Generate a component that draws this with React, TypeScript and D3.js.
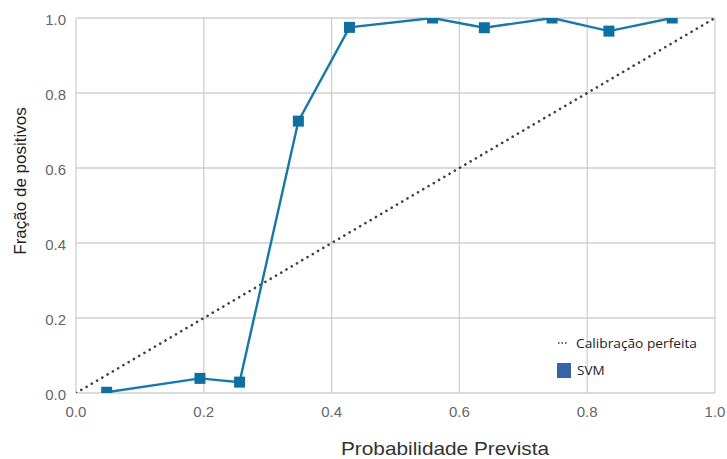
import React from "react";
import * as d3 from "d3";

const predicted = [0.048, 0.194, 0.256, 0.348, 0.428, 0.558, 0.639, 0.745, 0.834, 0.933];
const fraction = [0.002, 0.039, 0.029, 0.725, 0.975, 1.0, 0.974, 1.0, 0.965, 1.0];
const ticks = [0, 0.2, 0.4, 0.6, 0.8, 1.0];
const perfect = [0, 1];

const W = 727, H = 459;
const M = { left: 76, top: 18, right: 715, bottom: 393 };

export default function App() {
  const x = d3.scaleLinear().domain([0, 1]).range([M.left, M.right]);
  const y = d3.scaleLinear().domain([0, 1]).range([M.bottom, M.top]);
  const line = d3.line<number>().x((_, i) => x(predicted[i])).y((d) => y(d));
  const ms = 11;
  const font = "'Liberation Sans', Arial, sans-serif";
  return (
    <svg width={W} height={H} style={{ position: "absolute", left: 0, top: 0, background: "#fff" }}>
      <defs>
        <clipPath id="plot">
          <rect x={M.left} y={M.top} width={M.right - M.left} height={M.bottom - M.top} />
        </clipPath>
      </defs>
      {ticks.map((t) => (
        <g key={"g" + t}>
          <line x1={x(t)} x2={x(t)} y1={M.top} y2={M.bottom} stroke="#cfcfcf" strokeWidth={1.3} />
          <line x1={M.left} x2={M.right} y1={y(t)} y2={y(t)} stroke="#cfcfcf" strokeWidth={1.3} />
          <text x={x(t)} y={M.bottom + 24} textAnchor="middle" fontFamily={font} fontSize={15} fill="#666">
            {t.toFixed(1)}
          </text>
          <text x={M.left - 10} y={y(t) + 7} textAnchor="end" fontFamily={font} fontSize={15} fill="#666">
            {t.toFixed(1)}
          </text>
        </g>
      ))}
      <g clipPath="url(#plot)">
        <line
          x1={x(perfect[0])} y1={y(perfect[0])} x2={x(perfect[1])} y2={y(perfect[1])}
          stroke="#404040" strokeWidth={2.6} strokeDasharray="0.1,6" strokeLinecap="round"
        />
        <path d={line(fraction) || ""} fill="none" stroke="#1679a8" strokeWidth={2.4} />
        {fraction.map((v, i) => (
          <rect key={i} x={x(predicted[i]) - ms / 2} y={y(v) - ms / 2} width={ms} height={ms} fill="#0e70a0" />
        ))}
      </g>
      <g fontFamily="Open Sans, sans-serif" fontSize={13.5} fill="#222">
        <line x1={558} x2={568} y1={343} y2={343} stroke="#333" strokeWidth={1.6} strokeDasharray="1.5,2" />
        <text x={576} y={347.5} textLength={121} lengthAdjust="spacingAndGlyphs">Calibração perfeita</text>
        <rect x={557} y={363} width={14} height={15} fill="#3565a8" />
        <text x={577} y={375}>SVM</text>
      </g>
      <text x={445} y={455} textAnchor="middle" fontFamily={font} fontSize={18.5} fill="#333"
        textLength={208} lengthAdjust="spacingAndGlyphs">
        Probabilidade Prevista
      </text>
      <text transform={`translate(26,181) rotate(-90)`} textAnchor="middle" fontFamily={font} fontSize={17} fill="#222">
        Fração de positivos
      </text>
    </svg>
  );
}
